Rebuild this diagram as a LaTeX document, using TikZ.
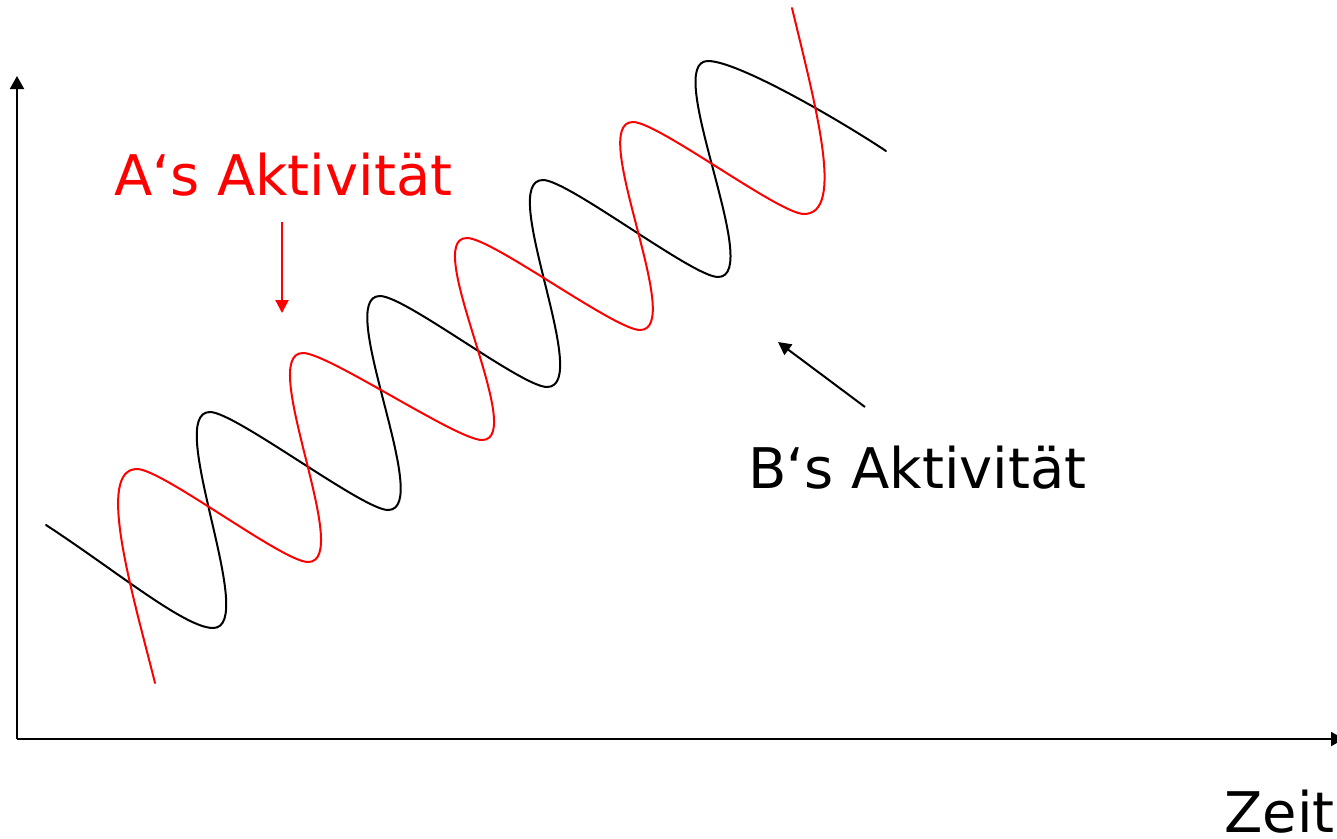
\documentclass[tikz,border=0pt]{standalone}
\usepackage{fontspec}
\setmainfont{DejaVu Sans}
\usetikzlibrary{arrows.meta}
\definecolor{actred}{RGB}{255,0,0}
\begin{document}
\begin{tikzpicture}[x=1pt,y=-1pt,
  curve/.style={line width=2pt,line join=round,line cap=round},
  axis/.style={line width=2pt,-{Triangle[length=13pt,width=14pt]}},
  pointer/.style={line width=2pt,-{Triangle[length=13pt,width=13pt]}},
  lbl/.style={inner sep=0pt,anchor=base west,font=\fontsize{56}{67}\selectfont},
]
\useasboundingbox (0,0) rectangle (1337,838);

% axes
\coordinate (O) at (17,739);
\coordinate (Ytip) at (17,76);
\coordinate (Xtip) at (1344,739);
\draw[axis] (O) -- (Ytip);
\draw[axis] (O) -- (Xtip);

% black curve (B)
\def\cs{47}
\def\ca{25}
\draw[curve,black] (46,525) .. controls (115,570) and (185,628) .. (213,628)
  .. controls +(\cs,0) and +(-\cs,0) .. (210,412)
  .. controls +(\ca,0) and +(-\ca,0) .. (388,510)
  .. controls +(\cs,0) and +(-\cs,0) .. (380,296)
  .. controls +(\ca,0) and +(-\ca,0) .. (547,387)
  .. controls +(\cs,0) and +(-\cs,0) .. (543,180)
  .. controls +(\ca,0) and +(-\ca,0) .. (718,277)
  .. controls +(\cs,0) and +(-\cs,0) .. (708,61)
  .. controls +(30,0) and +(-45,-30) .. (886,151);

% red curve (A)
\draw[curve,actred] (155,683) .. controls (133,595) and (95,469) .. (137,469)
  .. controls +(\ca,0) and +(-\ca,0) .. (308,562)
  .. controls +(\cs,0) and +(-\cs,0) .. (303,353)
  .. controls +(\ca,0) and +(-\ca,0) .. (482,440)
  .. controls +(\cs,0) and +(-\cs,0) .. (467,238)
  .. controls +(\ca,0) and +(-\ca,0) .. (640,330)
  .. controls +(\cs,0) and +(-\cs,0) .. (633,122)
  .. controls +(\ca,0) and +(-\ca,0) .. (804,214)
  .. controls +(41,0) and (816,108) .. (792,8);

% labels
\node[lbl,text=actred] (alabel) at (114,195) {A‘s Aktivität};
\node[lbl] (blabel) at (748,488) {B‘s Aktivität};
\node[lbl] (zeit) at (1224,832) {Zeit};

% pointers
\coordinate (afrom) at (282,222);
\coordinate (ato) at (282,313);
\draw[pointer,actred] (afrom) -- (ato);
\coordinate (bfrom) at (865,407);
\coordinate (bto) at (778,342);
\draw[pointer] (bfrom) -- (bto);
\end{tikzpicture}
\end{document}
